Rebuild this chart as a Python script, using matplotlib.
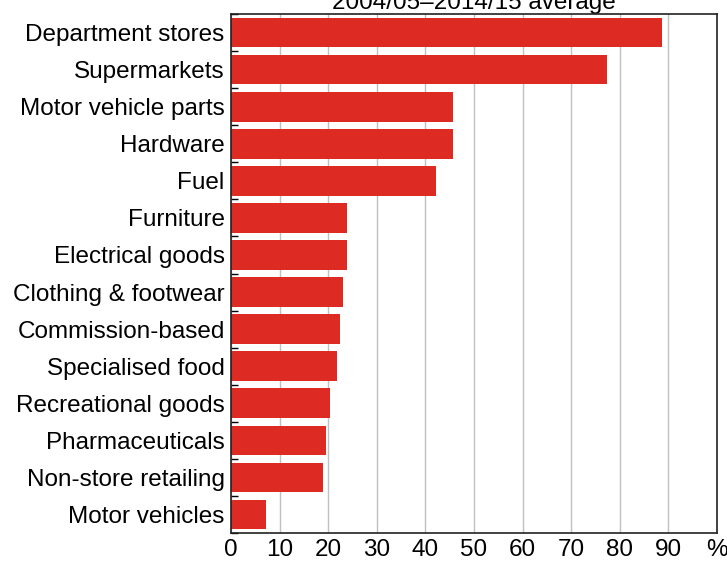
import numpy as np
import matplotlib
matplotlib.use("Agg")
from matplotlib import pyplot as plt

plt.rcParams['font.family'] = ['Liberation Sans', 'DejaVu Sans']

categories = ["Department stores", "Supermarkets", "Motor vehicle parts", "Hardware",
              "Fuel", "Furniture", "Electrical goods", "Clothing & footwear",
              "Commission-based", "Specialised food", "Recreational goods",
              "Pharmaceuticals", "Non-store retailing", "Motor vehicles"]
values = [88.7, 77.3, 45.6, 45.6, 42.2, 23.8, 23.8, 23.0, 22.4, 21.8, 20.4, 19.5, 19.0, 7.2]
xticks = [0, 10, 20, 30, 40, 50, 60, 70, 80, 90, 100]
xticklabels = ["0", "10", "20", "30", "40", "50", "60", "70", "80", "90", "%"]
title = "2004/05\u20132014/15 average"

fig = plt.figure(figsize=(7.27, 5.61), dpi=100)
ax = fig.add_axes([0.3177, 0.0499, 0.9862 - 0.3177, 0.975 - 0.0499])

pos = np.arange(len(categories))
ax.barh(pos, values, height=0.8, color="#dd2a22", zorder=3)

ax.set_xlim(0, 100)
ax.set_ylim(len(categories) - 0.5, -0.5)
ax.set_xticks(xticks)
ax.set_xticklabels(xticklabels, fontsize=17.5)
ax.set_yticks(pos)
ax.set_yticklabels(categories, fontsize=17.5)
ax.set_yticks(np.arange(len(categories) + 1) - 0.5, minor=True)
ax.tick_params(axis='y', which='major', length=0, pad=4.5)
ax.tick_params(axis='y', which='minor', direction='in', length=5, width=1, color='black')
ax.tick_params(axis='x', length=0, pad=4)

ax.grid(axis='x', color='#c0c0c0', linewidth=1, zorder=0)
for s in ax.spines.values():
    s.set_color('#222222')
    s.set_linewidth(1.2)
    s.set_zorder(4)

ax.set_title(title, fontsize=17.5, pad=3)

fig.savefig("out.png", dpi=100)
